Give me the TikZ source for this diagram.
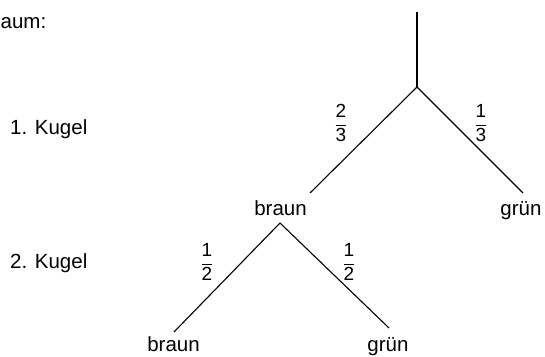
\documentclass[tikz,border=0pt]{standalone}
\usepackage{fontspec}
\setmainfont{Liberation Sans}
\newcommand{\myfr}[2]{$\displaystyle\frac{\mbox{#1}}{\mbox{#2}}$}
\begin{document}
\begin{tikzpicture}[x=1pt,y=-1pt,
  lbl/.style={font=\fontsize{20.5}{24}\selectfont, inner sep=0pt, anchor=base},
  frc/.style={font=\fontsize{19}{22}\selectfont, inner sep=0pt},
  branch/.style={line width=1.1pt}]
\useasboundingbox (0,0) rectangle (545,356);
% tree points
\coordinate (top) at (417,12);
\coordinate (j1) at (417,87);
\coordinate (b1) at (310,193);
\coordinate (g1) at (523,193);
\coordinate (j2) at (280,223);
\coordinate (b2) at (174,332);
\coordinate (g2) at (389,328);
\draw[branch] (top) -- (j1);
\draw[branch] (j1) -- (b1);
\draw[branch] (j1) -- (g1);
\draw[branch] (j2) -- (b2);
\draw[branch] (j2) -- (g2);
% labels
\node[lbl, anchor=base west] (baum) at (0.5,28) {aum:};
\node[lbl, anchor=base west] (k1) at (10,134) {1. Kugel};
\node[lbl, anchor=base west] (k2) at (10,268) {2. Kugel};
\node[lbl] (braun1) at (280.5,215) {braun};
\node[lbl] (gruen1) at (521,215) {grün};
\node[lbl] (braun2) at (173.5,351) {braun};
\node[lbl] (gruen2) at (388,351) {grün};
% fractions
\node[frc] (f23) at (341,123) {\myfr{2}{3}};
\node[frc] (f13) at (481,123) {\myfr{1}{3}};
\node[frc] (f12a) at (207,262) {\myfr{1}{2}};
\node[frc] (f12b) at (349,262) {\myfr{1}{2}};
\end{tikzpicture}
\end{document}
